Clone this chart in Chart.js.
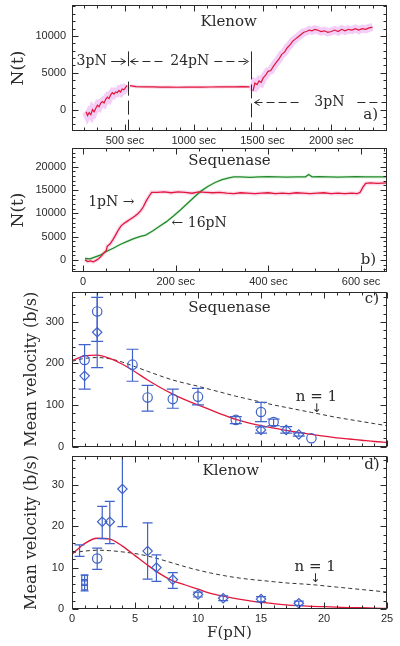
<!DOCTYPE html>
<html>
<head>
<meta charset="utf-8">
<script src="https://cdn.jsdelivr.net/npm/chart.js@4.4.1/dist/chart.umd.min.js"></script>
<style>
  html, body { margin: 0; padding: 0; background: #fff; }
  #wrap { position: relative; width: 400px; height: 646px; overflow: hidden; }
  canvas { position: absolute; left: 0; }
</style>
</head>
<body>
<div id="wrap">
  <canvas id="ca" width="400" height="147" style="top:0"></canvas>
  <canvas id="cb" width="400" height="139" style="top:147px"></canvas>
  <canvas id="cc" width="400" height="168" style="top:286px"></canvas>
  <canvas id="cd" width="400" height="196" style="top:450px"></canvas>
</div>
<script>
// ---- panel a: Klenow, N(t) vs time (3pN / 24pN / 3pN)
const aT1 = [217, 228, 240, 252, 264, 276, 288, 300, 312, 324, 336, 348, 360, 372, 384, 396, 408, 420, 432, 444, 456, 468, 480, 492, 504, 516];
const aN1 = [-300, -800, -400, -700, 0, -300, 200, 600, 400, 900, 1100, 900, 1400, 1700, 1500, 2000, 2300, 2100, 2400, 2300, 2600, 2400, 2800, 2700, 3000, 3300];
const aT2 = [536, 580, 640, 700, 760, 820, 880, 940, 1000, 1060, 1120, 1180, 1240, 1300, 1360, 1406];
const aN2 = [3250, 3120, 3100, 3080, 3050, 3060, 3040, 3050, 3060, 3050, 3070, 3080, 3090, 3100, 3120, 3100];
const aT3 = [1430, 1445, 1460, 1475, 1490, 1505, 1520, 1540, 1560, 1580, 1600, 1620, 1640, 1660, 1680, 1700, 1720, 1740, 1760, 1780, 1800, 1820, 1840, 1860, 1880, 1900, 1925, 1950, 1975, 2000, 2025, 2050, 2075, 2100, 2125, 2150, 2175, 2200, 2225, 2250, 2275, 2300];
const aN3 = [2500, 3600, 3400, 3900, 3700, 4300, 4600, 5200, 5300, 5900, 6400, 6900, 7500, 7800, 8400, 8800, 9300, 9600, 9900, 10200, 10500, 10600, 10800, 10700, 10900, 10800, 10600, 10700, 10500, 10600, 10800, 10600, 10900, 10700, 10900, 10800, 11000, 10800, 11000, 10900, 11100, 11200];
const aSwitch = [522, 1413];
const aXTicks = [500, 1000, 1500, 2000];
const aYTicks = [0, 5000, 10000];

// ---- panel b: Sequenase, 1pN (red) and 16pN (green)
const bTRed = [4, 10, 16, 22, 28, 34, 40, 46, 50, 52, 58, 64, 70, 76, 82, 88, 94, 100, 106, 112, 118, 124, 130, 136, 142, 148, 160, 175, 190, 205, 220, 235, 250, 265, 280, 295, 310, 325, 340, 355, 370, 385, 400, 415, 430, 445, 460, 475, 490, 505, 520, 535, 550, 565, 580, 592, 598, 604, 610, 620, 635, 656];
const bNRed = [0, -350, -200, -400, -100, 300, 900, 1600, 2000, 2900, 3400, 4300, 5300, 6400, 7300, 7800, 8200, 8600, 9000, 9400, 9900, 10500, 11400, 12600, 13600, 14500, 14500, 14600, 14400, 14600, 14500, 14300, 14600, 14500, 14400, 14500, 14300, 14200, 14400, 14300, 14200, 14300, 14400, 14200, 14300, 14200, 14400, 14300, 14200, 14300, 14400, 14200, 14300, 14200, 14300, 14200, 14500, 15600, 16400, 16500, 16400, 16500];
const bTGreen = [4, 15, 25, 37, 50, 65, 80, 94, 108, 122, 135, 150, 165, 180, 195, 210, 225, 240, 255, 270, 285, 300, 315, 325, 340, 360, 380, 400, 420, 440, 460, 480, 487, 494, 510, 530, 550, 570, 590, 610, 630, 656];
const bNGreen = [300, 200, 600, 1000, 1800, 2500, 3300, 3900, 4500, 5000, 5300, 6200, 7200, 8200, 9400, 10700, 12100, 13500, 14800, 15800, 16600, 17200, 17600, 17800, 17800, 17700, 17800, 17850, 17800, 17750, 17800, 17800, 18300, 17800, 17850, 17800, 17750, 17800, 17850, 17800, 17800, 17800];
const bXTicks = [0, 200, 400, 600];
const bYTicks = [0, 5000, 10000, 15000, 20000];

// ---- panel c: Sequenase mean velocity vs force
const fitF = [0, 1, 2, 3, 4, 5, 6, 7, 8, 9, 10, 11, 12, 13, 14, 15, 16, 17, 18, 19, 20, 21, 22, 23, 24, 25];
const cFit = [207, 218, 220, 212, 198, 180, 160, 142, 126, 112, 100, 88, 76, 65, 57, 50, 44, 39, 34, 29, 25, 21, 18, 15, 12, 10];
const cN1 = [205, 212, 214, 211, 203, 192, 181, 170, 160, 152, 145, 137, 129, 121, 114, 107, 100, 94, 88, 82, 76, 70, 65, 60, 55, 50];
const cCircF = [1, 2, 4.8, 6, 8, 10, 13, 15, 16, 19];
const cCircV = [208, 325, 197, 118, 114, 120, 64, 83, 59, 20];
const cCircLo = [138, 253, 157, 85, 92, 100, 55, 60, 50, null];
const cCircHi = [245, 400, 234, 147, 138, 140, 72, 106, 66, null];
const cDiaF = [1, 2, 15, 17, 18];
const cDiaV = [170, 275, 40, 40, 29];
const cDiaLo = [null, 190, 32, 32, 25];
const cDiaHi = [null, 359, 47, 48, 33];
const cYTicks = [0, 100, 200, 300];

// ---- panel d: Klenow mean velocity vs force
const dFit = [13.2, 15.8, 17.1, 16.9, 15.2, 12.9, 10.6, 8.5, 6.8, 5.8, 4.8, 3.8, 3.1, 2.5, 2.0, 1.6, 1.3, 1.0, 0.8, 0.65, 0.55, 0.45, 0.35, 0.3, 0.2, 0.15];
const dN1 = [13.6, 14.0, 14.2, 14.1, 13.8, 13.4, 12.8, 12.0, 11.1, 10.2, 9.4, 8.7, 8.1, 7.6, 7.2, 6.9, 6.6, 6.3, 6.1, 5.9, 5.6, 5.3, 5.0, 4.7, 4.4, 4.1];
const dCircF = [2.0];
const dCircV = [12.2];
const dCircLo = [9.6];
const dCircHi = [14.7];
const dDiaF = [2.4, 3.0, 4.0, 6.0, 6.7, 8.0, 10.0, 12.0, 15.0, 18.0];
const dDiaV = [21.1, 21.1, 29.0, 14.0, 10.0, 7.1, 3.5, 2.6, 2.4, 1.4];
const dDiaLo = [17.0, 15.8, 19.9, 7.2, 6.7, 5.0, 2.9, 2.0, 1.8, 0.9];
const dDiaHi = [24.8, 26.0, 40, 20.8, 13.1, 8.8, 4.1, 3.2, 3.0, 1.9];
const dSqF = [1, 1, 1];
const dSqV = [7.5, 6.4, 5.3];
const dSqLo = [4.4, null, null];
const dSqHi = [8.2, null, null];
const dBarF = [0.6];
const dBarV = [14.1];
const dBarLo = [12.7];
const dBarHi = [15.5];
const fXTicks = [0, 5, 10, 15, 20, 25];
const dYTicks = [0, 10, 20, 30];

const SERIF = '"DejaVu Serif", serif';
const SANS = '"Liberation Sans", Arial, sans-serif';
const INK = '#2a2a2a';
const RED = '#e3173b';
const BLUE = '#4063c9';
const GREEN = '#23882c';

const xy = (xs, ys) => xs.map((x, i) => ({ x, y: ys[i] }));
const tickFont = { family: SANS, size: 11 };

// frame with inward major/minor ticks on all four sides
const framePlugin = {
  id: 'frame',
  afterDatasetsDraw(chart, _args, o) {
    const { ctx, chartArea: a, scales: { x, y } } = chart;
    const major = (v, m) => Math.abs(v / m - Math.round(v / m)) < 1e-6;
    ctx.save();
    ctx.strokeStyle = INK;
    ctx.lineWidth = 1;
    const L = Math.round(a.left) + 0.5, R = Math.round(a.right) - 0.5;
    const T = Math.round(a.top) + 0.5, B = Math.round(a.bottom) - 0.5;
    ctx.strokeRect(L, T, R - L, B - T);
    ctx.beginPath();
    for (let v = Math.ceil(x.min / o.xMinor) * o.xMinor; v <= x.max; v += o.xMinor) {
      const p = Math.round(x.getPixelForValue(v)) + 0.5;
      const len = major(v, o.xMajor) ? 6 : 3;
      ctx.moveTo(p, B); ctx.lineTo(p, B - len);
      ctx.moveTo(p, T); ctx.lineTo(p, T + len);
    }
    for (let v = Math.ceil(y.min / o.yMinor) * o.yMinor; v <= y.max; v += o.yMinor) {
      const p = Math.round(y.getPixelForValue(v)) + 0.5;
      const len = major(v, o.yMajor) ? 6 : 3;
      ctx.moveTo(L, p); ctx.lineTo(L + len, p);
      ctx.moveTo(R, p); ctx.lineTo(R - len, p);
    }
    ctx.stroke();
    ctx.restore();
  }
};

// vertical error bars read from dataset.errLo / dataset.errHi
const errorBarPlugin = {
  id: 'errbars',
  afterDatasetsDraw(chart) {
    const { ctx, chartArea: a, scales: { y } } = chart;
    ctx.save();
    ctx.beginPath();
    ctx.rect(a.left, a.top, a.width, a.height);
    ctx.clip();
    ctx.strokeStyle = BLUE;
    ctx.lineWidth = 1.2;
    chart.data.datasets.forEach((ds, i) => {
      if (!ds.errLo) return;
      chart.getDatasetMeta(i).data.forEach((pt, j) => {
        const lo = ds.errLo[j], hi = ds.errHi[j];
        if (lo == null) return;
        const y1 = y.getPixelForValue(lo), y2 = y.getPixelForValue(hi);
        const w = ds.capWidth || 5;
        ctx.beginPath();
        ctx.moveTo(pt.x, y1); ctx.lineTo(pt.x, y2);
        ctx.moveTo(pt.x - w, y1); ctx.lineTo(pt.x + w, y1);
        ctx.moveTo(pt.x - w, y2); ctx.lineTo(pt.x + w, y2);
        ctx.stroke();
      });
    });
    ctx.restore();
  }
};

function note(ctx, s, x, y, size, align, family) {
  ctx.font = `${size || 15}px ${family || SERIF}`;
  ctx.textAlign = align || 'center';
  ctx.textBaseline = 'middle';
  ctx.fillStyle = INK;
  ctx.fillText(s, x, y);
}

function seg(ctx, x1, y1, x2, y2, dash) {
  ctx.save();
  ctx.setLineDash(dash || []);
  ctx.beginPath();
  ctx.moveTo(x1, y1);
  ctx.lineTo(x2, y2);
  ctx.stroke();
  ctx.restore();
}

function head(ctx, x, y, dir) {
  ctx.beginPath();
  ctx.moveTo(x - dir * 5, y - 3);
  ctx.lineTo(x, y);
  ctx.lineTo(x - dir * 5, y + 3);
  ctx.stroke();
}

function notesPlugin(draw) {
  return {
    id: 'notes',
    afterDraw(chart) {
      const { ctx, scales: { x, y } } = chart;
      ctx.save();
      ctx.strokeStyle = INK;
      ctx.lineWidth = 1;
      draw(ctx, v => x.getPixelForValue(v), v => y.getPixelForValue(v), chart.chartArea);
      ctx.restore();
    }
  };
}

// fixed-size axes so the four plot frames line up exactly
function noEdgePadding(s) {
  s.paddingTop = 0; s.paddingBottom = 0; s.paddingLeft = 0; s.paddingRight = 0;
}

function yAxis(min, max, ticks, title, titleSize, titlePad, labelPad) {
  return {
    type: 'linear', min, max,
    afterFit: s => { s.width = 72; noEdgePadding(s); },
    afterBuildTicks: s => { s.ticks = ticks.map(v => ({ value: v })); },
    grid: { display: false, drawTicks: false },
    border: { display: false },
    ticks: { padding: labelPad, font: tickFont, color: INK, autoSkip: false, callback: v => String(v) },
    title: { display: true, text: title, color: INK, font: { family: SERIF, size: titleSize }, padding: { top: titlePad, bottom: 0 } }
  };
}

function xAxis(min, max, ticks, height, fmt, title) {
  return {
    type: 'linear', min, max,
    display: ticks !== null,
    afterFit: s => { s.height = height; noEdgePadding(s); },
    afterBuildTicks: s => { s.ticks = (ticks || []).map(v => ({ value: v })); },
    grid: { display: false, drawTicks: false },
    border: { display: false },
    ticks: { padding: 3, font: tickFont, color: INK, autoSkip: false, maxRotation: 0, callback: fmt },
    title: title ? { display: true, text: title, color: INK, font: { family: SERIF, size: 15 }, padding: { top: 0, bottom: 4 } } : { display: false }
  };
}

function build(id, datasets, scales, padding, frame, notes) {
  return new Chart(document.getElementById(id), {
    type: 'scatter',
    data: { datasets },
    options: {
      responsive: false,
      animation: false,
      events: [],
      layout: { padding },
      plugins: { legend: { display: false }, tooltip: { enabled: false }, frame },
      scales
    },
    plugins: [errorBarPlugin, framePlugin, notesPlugin(notes)]
  });
}

const trace = (data, color, width) => ({
  data, showLine: true, borderColor: color, borderWidth: width, pointRadius: 0, tension: 0
});
const curve = (data, color, dash) => ({
  data, showLine: true, borderColor: color, borderWidth: dash ? 1 : 1.3, borderDash: dash || [],
  pointRadius: 0, cubicInterpolationMode: 'monotone'
});
const marks = (data, style, radius, lo, hi, cap) => ({
  data, showLine: false, pointStyle: style, pointRadius: radius, pointBorderWidth: 1.2,
  pointBorderColor: BLUE, pointBackgroundColor: 'rgba(0,0,0,0)', errLo: lo, errHi: hi, capWidth: cap
});

// ---- a)
const aHalo = 'rgba(226,140,236,0.42)';
build('ca', [
  trace(xy(aT1, aN1), RED, 1.2),
  trace(xy(aT2, aN2), RED, 1.2),
  trace(xy(aT3, aN3), RED, 1.2),
  trace(xy(aT1, aN1), aHalo, 8),
  trace(xy(aT2, aN2), 'rgba(236,150,200,0.45)', 3),
  trace(xy(aT3, aN3), aHalo, 8)
], {
  x: xAxis(115, 2405, aXTicks, 16, v => v + ' sec'),
  y: yAxis(-2900, 14200, aYTicks, 'N(t)', 17, 8, 6)
}, { top: 5, right: 13, bottom: 0, left: 0 },
{ xMinor: 100, xMajor: 500, yMinor: 1000, yMajor: 5000 },
(ctx, X, Y, area) => {
  note(ctx, 'Klenow', X(1254), Y(11820));
  const dashTop = [3800, 6000];
  aSwitch.forEach((t, i) => {
    const px = Math.round(X(t)) + 0.5;
    seg(ctx, px, Y(7900), px, Y(5900));
    seg(ctx, px, Y(dashTop[i]), px, area.bottom, [14, 5]);
  });
  const ya = Math.round(Y(6650)) + 0.5;
  note(ctx, '3pN', X(258), ya, 14);
  seg(ctx, X(400), ya, X(505), ya);
  head(ctx, X(505), ya, 1);
  head(ctx, X(540), ya, -1);
  seg(ctx, X(540), ya, X(800), ya, [8, 4]);
  note(ctx, '24pN', X(971), ya, 14);
  seg(ctx, X(1150), ya, X(1398), ya, [8, 4]);
  head(ctx, X(1398), ya, 1);
  const yb = Math.round(Y(1000)) + 0.5;
  head(ctx, X(1442), yb, -1);
  seg(ctx, X(1442), yb, X(1780), yb, [8, 4]);
  note(ctx, '3pN', X(1986), yb, 14);
  seg(ctx, X(2190), yb, X(2405), yb, [8, 4]);
  note(ctx, 'a)', X(2286), Y(-810));
});

// ---- b)
build('cb', [
  trace(xy(bTRed, bNRed), RED, 1.3),
  trace(xy(bTGreen, bNGreen), GREEN, 1.3),
  trace(xy(bTRed, bNRed), 'rgba(240,150,200,0.35)', 4),
  trace(xy(bTGreen, bNGreen), 'rgba(150,220,150,0.3)', 3)
], {
  x: xAxis(-24, 656, bXTicks, 14, v => (v === 0 ? '0' : v + ' sec')),
  y: yAxis(-2600, 24000, bYTicks, 'N(t)', 17, 8, 6)
}, { top: 1, right: 13, bottom: 0, left: 0 },
{ xMinor: 50, xMajor: 200, yMinor: 1000, yMajor: 5000 },
(ctx, X, Y) => {
  note(ctx, 'Sequenase', X(316), Y(21200));
  note(ctx, '1pN \u2192', X(11), Y(12400), 14, 'left');
  note(ctx, '\u2190 16pN', X(191), Y(7900), 14, 'left');
  note(ctx, 'b)', X(616), Y(0));
});

// ---- c)
build('cc', [
  marks(xy(cCircF, cCircV), 'circle', 4.7, cCircLo, cCircHi, 6),
  marks(xy(cDiaF, cDiaV), 'rectRot', 4.7, cDiaLo, cDiaHi, 6),
  curve(xy(fitF, cFit), RED),
  curve(xy(fitF, cN1), '#333', [4, 3])
], {
  x: xAxis(0, 25, null, 0, v => v),
  y: yAxis(0, 372, cYTicks, 'Mean velocity (b/s)', 16, 22, 8)
}, { top: 3, right: 13, bottom: 7.5, left: 0 },
{ xMinor: 1, xMajor: 5, yMinor: 20, yMajor: 100 },
(ctx, X, Y) => {
  note(ctx, 'Sequenase', X(12.5), Y(333));
  note(ctx, 'c)', X(23.8), Y(355));
  note(ctx, 'n = 1', X(19.4), Y(118.6));
  note(ctx, '\u2193', X(19.4), Y(91), 12, 'center', '"DejaVu Sans", sans-serif');
});

// ---- d)
build('cd', [
  marks(xy(dCircF, dCircV), 'circle', 4.7, dCircLo, dCircHi, 5),
  marks(xy(dDiaF, dDiaV), 'rectRot', 4.7, dDiaLo, dDiaHi, 5),
  marks(xy(dSqF, dSqV), 'rect', 4, dSqLo, dSqHi, 4),
  marks(xy(dBarF, dBarV), 'circle', 0, dBarLo, dBarHi, 5),
  curve(xy(fitF, dFit), RED),
  curve(xy(fitF, dN1), '#333', [4, 3])
], {
  x: xAxis(0, 25, fXTicks, 37, v => String(v), 'F(pN)'),
  y: yAxis(0, 37, dYTicks, 'Mean velocity (b/s)', 16, 22, 8)
}, { top: 2, right: 13, bottom: 0, left: 0 },
{ xMinor: 1, xMajor: 5, yMinor: 2, yMajor: 10 },
(ctx, X, Y) => {
  note(ctx, 'Klenow', X(12.6), Y(33.3));
  note(ctx, 'd)', X(23.8), Y(34.7));
  note(ctx, 'n = 1', X(19.3), Y(10.2));
  note(ctx, '\u2193', X(19.3), Y(7.3), 12, 'center', '"DejaVu Sans", sans-serif');
});
</script>
</body>
</html>
